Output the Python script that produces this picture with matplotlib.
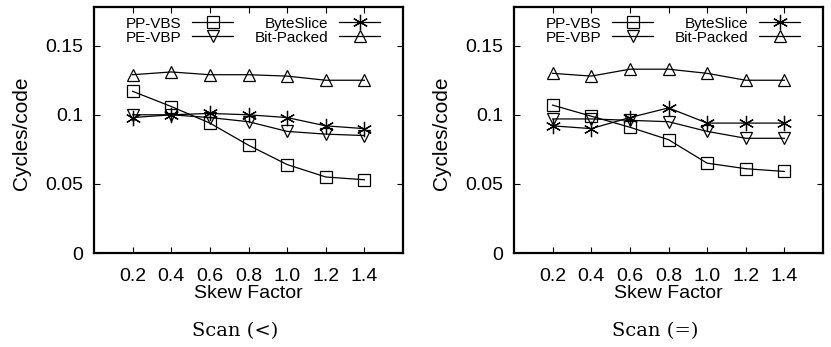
import matplotlib.pyplot as plt

# skew factors on the x axis
skew = [0.2, 0.4, 0.6, 0.8, 1.0, 1.2, 1.4]
yticks = [0, 0.05, 0.1, 0.15]
ytick_labels = ['0', '0.05', '0.1', '0.15']
panel_titles = ['Scan (<)', 'Scan (=)']

# Scan (<)
lt_ppvbs = [0.117, 0.106, 0.094, 0.078, 0.064, 0.055, 0.053]
lt_pevbp = [0.100, 0.100, 0.098, 0.095, 0.088, 0.086, 0.085]
lt_byteslice = [0.098, 0.100, 0.101, 0.100, 0.098, 0.092, 0.090]
lt_bitpacked = [0.129, 0.131, 0.129, 0.129, 0.128, 0.125, 0.125]

# Scan (=)
eq_ppvbs = [0.107, 0.099, 0.091, 0.082, 0.065, 0.061, 0.059]
eq_pevbp = [0.097, 0.097, 0.096, 0.095, 0.088, 0.083, 0.083]
eq_byteslice = [0.092, 0.090, 0.098, 0.105, 0.094, 0.094, 0.094]
eq_bitpacked = [0.130, 0.128, 0.133, 0.133, 0.130, 0.125, 0.125]

panels = [
    [lt_ppvbs, lt_pevbp, lt_byteslice, lt_bitpacked],
    [eq_ppvbs, eq_pevbp, eq_byteslice, eq_bitpacked],
]
labels = ['PP-VBS', 'PE-VBP', 'ByteSlice', 'Bit-Packed']
markers = ['s', 'v', (6, 2, 0), '^']
sizes = [8, 9, 11, 9]

plt.rcParams['font.family'] = ['Liberation Sans', 'DejaVu Sans']

fig = plt.figure(figsize=(8.31, 3.47), dpi=100)
lefts = [94 / 831, 514 / 831]
title_x = [235 / 831, 655 / 831]
ylabel_x = [22 / 831, 442 / 831]

for i, series in enumerate(panels):
    ax = fig.add_axes([lefts[i], 1 - 253 / 347, 309 / 831, 246 / 347])
    for vals, lab, m, s in zip(series, labels, markers, sizes):
        ax.plot(skew, vals, color='black', linewidth=0.9, marker=m, markersize=s,
                markerfacecolor='none', markeredgecolor='black', markeredgewidth=0.9,
                label=lab)
    ax.set_xlim(0, 1.6)
    ax.set_ylim(0, 0.178)
    ax.set_xticks(skew)
    ax.set_xticklabels(['%.1f' % v for v in skew])
    ax.set_yticks(yticks)
    ax.set_yticklabels(ytick_labels)
    ax.tick_params(direction='in', length=4, width=0.8, labelsize=14,
                   top=True, right=True)
    ax.tick_params(axis='x', pad=11)
    ax.tick_params(axis='y', pad=8)
    for sp in ax.spines.values():
        sp.set_linewidth(1.6)
    ax.set_xlabel('Skew Factor', fontsize=14, labelpad=0)
    ax.legend(loc='upper center', bbox_to_anchor=(0.515, 0.985), ncol=2,
              frameon=False, markerfirst=False, fontsize=11, handlelength=2.7,
              handletextpad=0.7, columnspacing=1.4, labelspacing=0.0,
              borderaxespad=0.0)
    fig.text(ylabel_x[i], 1 - 133 / 347, 'Cycles/code', rotation=90,
             ha='center', va='center', fontsize=15)
    fig.text(title_x[i], 1 - 331 / 347, panel_titles[i], ha='center', va='center',
             fontsize=14, family='DejaVu Serif')

plt.savefig('out.png', dpi=100)
